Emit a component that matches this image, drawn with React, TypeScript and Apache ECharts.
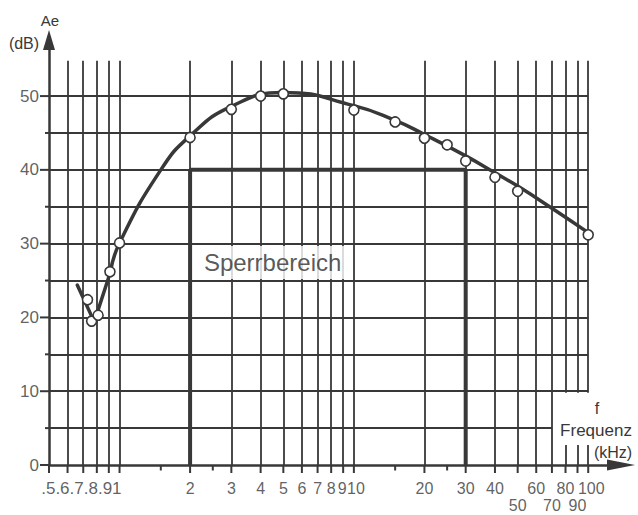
import React, { useEffect, useRef } from "react";
import * as echarts from "echarts";

// ---- data ----
const xTickValues = [0.5, 0.6, 0.7, 0.8, 0.9, 1, 2, 3, 4, 5, 6, 7, 8, 9, 10, 20, 30, 40, 50, 60, 70, 80, 90, 100];
const xTickLabels = [".5", ".6", ".7", ".8", ".9", "1", "2", "3", "4", "5", "6", "7", "8", "9", "10", "20", "30", "40", "50", "60", "70", "80", "90", "100"];
const xLowerRowLabels = ["50", "70", "90"];
// the labels .5 … 1 are printed run together in the reference
const xTightLabels = [".5", ".6", ".7", ".8", ".9", "1"];
const xMinorTicks = [1.5, 2.5, 15, 25];
const xBrokenColumns = [80, 90, 100];
const yGridValues = [5, 10, 15, 20, 25, 30, 35, 40, 45, 50];
const yLabelValues = [0, 10, 20, 30, 40, 50];
const yMinorTickValues = [5, 15, 25, 35, 45];

const measuredFreq = [0.73, 0.76, 0.81, 0.91, 1, 2, 3, 4, 5, 10, 15, 20, 25, 30, 40, 50, 100];
const measuredDb = [22.4, 19.5, 20.3, 26.2, 30.1, 44.4, 48.2, 50.0, 50.3, 48.1, 46.5, 44.3, 43.4, 41.2, 39.0, 37.1, 31.2];

// low-frequency "V" part of the curve (straight strokes)
const curveLowFreq = [0.66, 0.78, 0.915];
const curveLowDb = [24.4, 19.4, 26.2];
// smooth part of the curve
const curveFreq = [0.915, 1, 1.5, 2, 3, 5, 10, 15, 20, 30, 40, 50, 70, 100];
const curveDb = [26.2, 30.1, 40.0, 44.6, 48.6, 50.5, 48.7, 46.7, 44.8, 41.9, 39.6, 37.8, 34.8, 31.5];

const stopBandFreq = [2, 2, 30, 30];
const stopBandDb = [0, 40, 40, 0];
const stopBandLabel = "Sperrbereich";
const stopBandLabelPos = [4.5, 27.45];

export default function App() {
  const ref = useRef<HTMLDivElement>(null);

  useEffect(() => {
    const chart = echarts.init(ref.current!, null, { renderer: "svg" });
    const ink = "#383838";
    const font = "Liberation Sans";
    const xMin = 0.5;
    const xMax = 138;
    const yMax = 57.6;
    const gridTopDb = 54.8;
    const gapLow = 2.7;
    const gapHigh = 9.8;

    const gridLines: any[] = [];
    xTickValues.slice(1).forEach((v) => {
      if (xBrokenColumns.includes(v)) {
        gridLines.push([{ coord: [v, 0] }, { coord: [v, gapLow] }]);
        gridLines.push([{ coord: [v, gapHigh] }, { coord: [v, gridTopDb] }]);
      } else {
        gridLines.push([{ coord: [v, 0] }, { coord: [v, gridTopDb] }]);
      }
    });
    yGridValues.forEach((y) => {
      const end = y < 10 ? 70 : 100;
      gridLines.push([{ coord: [xMin, y] }, { coord: [end, y] }]);
    });

    const tickItems: any[] = [];
    xTickValues.forEach((v) =>
      tickItems.push({ value: [v, 0], symbol: "rect", symbolSize: [2, 8], symbolOffset: [0, 4] })
    );
    xMinorTicks.forEach((v) =>
      tickItems.push({ value: [v, 0], symbol: "rect", symbolSize: [2, 5], symbolOffset: [0, 3] })
    );
    yLabelValues.forEach((v) =>
      tickItems.push({ value: [xMin, v], symbol: "rect", symbolSize: [9, 2], symbolOffset: [-4.5, 0] })
    );
    yMinorTickValues.forEach((v) =>
      tickItems.push({ value: [xMin, v], symbol: "rect", symbolSize: [4, 2], symbolOffset: [-2, 0] })
    );

    const labelItems: any[] = [];
    // run-together group ".5.6.7.8.91", right edge at the 1 kHz line
    const tightText = xTickLabels.filter((t) => xTightLabels.includes(t)).join("");
    const lastTight = xTickValues[xTickLabels.indexOf(xTightLabels[xTightLabels.length - 1])];
    labelItems.push({
      value: [lastTight, 0],
      label: { formatter: tightText, align: "right", offset: [2, 23], fontSize: 17 },
    });
    const nudges: Record<string, number> = { "9": -1, "10": 2, "100": 3 };
    xTickValues.forEach((v, i) => {
      const t = xTickLabels[i];
      if (xTightLabels.includes(t)) return;
      const lower = xLowerRowLabels.includes(t);
      labelItems.push({
        value: [v, 0],
        label: {
          formatter: t,
          align: "center",
          offset: [nudges[t] || 0, lower ? 40 : 23],
        },
      });
    });
    yLabelValues.forEach((v) =>
      labelItems.push({
        value: [xMin, v],
        label: { formatter: String(v), align: "right", offset: [-10, 0], fontSize: 17 },
      })
    );

    chart.setOption({
      animation: false,
      backgroundColor: "#ffffff",
      grid: { left: 49, top: 40, width: 572, height: 425 },
      xAxis: {
        type: "log",
        logBase: 10,
        min: xMin,
        max: xMax,
        axisLine: {
          show: true,
          onZero: false,
          lineStyle: { color: ink, width: 2.5 },
          symbol: ["none", "triangle"],
          symbolSize: [11, 28],
        },
        axisTick: { show: false },
        axisLabel: { show: false },
        splitLine: { show: false },
      },
      yAxis: {
        type: "value",
        min: 0,
        max: yMax,
        axisLine: {
          show: true,
          onZero: false,
          lineStyle: { color: ink, width: 2.5 },
          symbol: ["none", "triangle"],
          symbolSize: [12, 20],
        },
        axisTick: { show: false },
        axisLabel: { show: false },
        splitLine: { show: false },
      },
      series: [
        {
          name: "grid",
          type: "line",
          z: 1,
          silent: true,
          data: [[1, 0]],
          symbol: "none",
          lineStyle: { width: 0 },
          markLine: {
            z: 1,
            silent: true,
            symbol: ["none", "none"],
            label: { show: false },
            lineStyle: { color: ink, width: 1.8, type: "solid" },
            emphasis: { disabled: true },
            data: gridLines,
          },
        },
        {
          name: "ticks",
          type: "scatter",
          z: 2,
          silent: true,
          clip: false,
          itemStyle: { color: ink, opacity: 1 },
          data: tickItems,
        },
        {
          name: "labels",
          type: "scatter",
          z: 2,
          silent: true,
          clip: false,
          symbolSize: 1,
          itemStyle: { color: "rgba(0,0,0,0)" },
          label: {
            show: true,
            position: "inside",
            verticalAlign: "middle",
            color: ink,
            fontFamily: font,
            fontSize: 16,
          },
          data: labelItems,
        },
        {
          name: "sperr-label",
          type: "scatter",
          z: 3,
          silent: true,
          symbolSize: 1,
          itemStyle: { color: "rgba(0,0,0,0)" },
          label: {
            show: true,
            position: "inside",
            formatter: stopBandLabel,
            color: "#2e2e2e",
            fontFamily: font,
            fontSize: 24,
            lineHeight: 24,
            backgroundColor: "#ffffff",
            padding: [5, 8, 4, 8],
          },
          data: [stopBandLabelPos],
        },
        {
          name: "Sperrbereich",
          type: "line",
          z: 4,
          silent: true,
          symbol: "none",
          lineStyle: { color: ink, width: 4 },
          data: stopBandFreq.map((f, i) => [f, stopBandDb[i]]),
        },
        {
          name: "Ae-low",
          type: "line",
          z: 5,
          silent: true,
          symbol: "none",
          lineStyle: { color: ink, width: 3.5, join: "round", cap: "round" },
          data: curveLowFreq.map((f, i) => [f, curveLowDb[i]]),
        },
        {
          name: "Ae",
          type: "line",
          z: 5,
          silent: true,
          symbol: "none",
          smooth: 0.5,
          lineStyle: { color: ink, width: 3.5, cap: "round" },
          data: curveFreq.map((f, i) => [f, curveDb[i]]),
        },
        {
          name: "Messpunkte",
          type: "scatter",
          z: 6,
          silent: true,
          symbol: "circle",
          symbolSize: 10,
          itemStyle: { color: "#ffffff", borderColor: ink, borderWidth: 1.6, opacity: 1 },
          data: measuredFreq.map((f, i) => [f, measuredDb[i]]),
        },
      ],
      graphic: [
        { type: "text", x: 50, y: 20, style: { text: "Ae", fill: ink, fontFamily: font, fontSize: 15, align: "center", verticalAlign: "middle" } },
        { type: "text", x: 24, y: 43, style: { text: "(dB)", fill: ink, fontFamily: font, fontSize: 16, align: "center", verticalAlign: "middle" } },
        { type: "text", x: 597, y: 408, style: { text: "f", fill: ink, fontFamily: font, fontSize: 16, align: "center", verticalAlign: "middle" } },
        { type: "text", x: 596, y: 430, style: { text: "Frequenz", fill: ink, fontFamily: font, fontSize: 17, align: "center", verticalAlign: "middle" } },
        { type: "text", x: 613, y: 452, style: { text: "(kHz)", fill: ink, fontFamily: font, fontSize: 16, align: "center", verticalAlign: "middle" } },
      ],
    });

    return () => chart.dispose();
  }, []);

  return <div ref={ref} style={{ position: "fixed", left: 0, top: 0, width: 638, height: 515 }} />;
}
